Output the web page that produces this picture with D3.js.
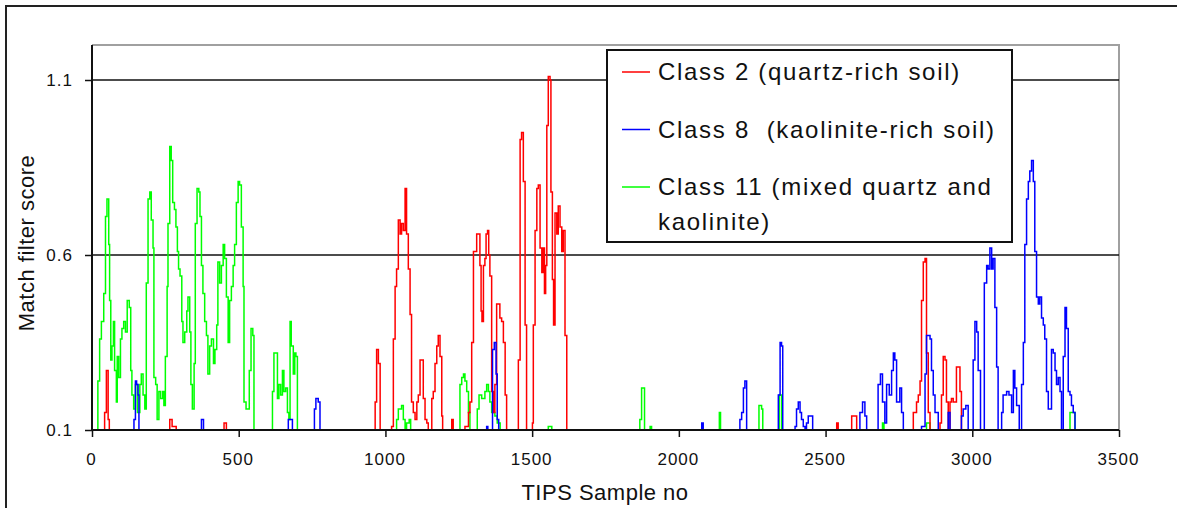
<!DOCTYPE html>
<html>
<head>
<meta charset="utf-8">
<script src="https://cdn.jsdelivr.net/npm/d3@7"></script>
<style>
    html, body {
        margin: 0;
        padding: 0;
        background: white;
        overflow: hidden;
    }
    svg {
        display: block;
        font-family: "Liberation Sans", Arial, sans-serif;
    }
    text.tick-label {
        font-size: 17px;
        letter-spacing: 1px;
        fill: #111;
    }
    .axis-title {
        font-size: 22px;
        letter-spacing: 0.5px;
        fill: #111;
    }
    .legend text {
        font-size: 24px;
        letter-spacing: 1.7px;
        fill: #111;
        white-space: pre;
    }
</style>
</head>
<body>
<svg width="1177" height="508"></svg>
<script>
    // values: [TIPS sample no, match filter score]
    var class2 = [[0,0.1],[43,0.15],[49,0.27],[55,0.13],[59,0.1],[265,0.13],[273,0.11],[287,0.1],[450,0.12],[458,0.1],
        [965,0.18],[970,0.33],[976,0.29],[982,0.1],[1021,0.11],[1027,0.36],[1033,0.51],[1038,0.56],[1044,0.70],[1050,0.66],[1055,0.69],[1061,0.67],[1067,0.79],[1072,0.66],[1078,0.56],[1084,0.43],[1089,0.18],[1095,0.15],[1101,0.13],[1107,0.18],[1112,0.20],[1118,0.30],[1124,0.30],[1129,0.19],[1135,0.13],[1141,0.12],[1146,0.1],
        [1158,0.19],[1163,0.21],[1169,0.29],[1175,0.34],[1180,0.37],[1186,0.31],[1192,0.14],[1195,0.1],[1226,0.13],[1231,0.1],
        [1271,0.11],[1283,0.15],[1288,0.18],[1294,0.35],[1300,0.61],[1305,0.61],[1311,0.66],[1317,0.66],[1322,0.57],[1326,0.44],[1329,0.41],[1334,0.57],[1339,0.59],[1343,0.66],[1348,0.67],[1352,0.60],[1356,0.54],[1362,0.21],[1368,0.15],[1373,0.23],[1379,0.46],[1385,0.46],[1390,0.42],[1396,0.41],[1402,0.35],[1408,0.20],[1413,0.1],
        [1453,0.30],[1459,0.93],[1464,0.95],[1470,0.81],[1476,0.40],[1481,0.1],
        [1501,0.12],[1504,0.40],[1510,0.67],[1516,0.79],[1521,0.80],[1527,0.62],[1533,0.55],[1538,0.62],[1542,0.49],[1546,0.57],[1550,0.97],[1555,1.11],[1561,1.10],[1564,0.78],[1569,0.53],[1573,0.40],[1578,0.72],[1584,0.66],[1589,0.74],[1595,0.68],[1601,0.61],[1606,0.67],[1612,0.37],[1618,0.1],
        [2538,0.12],[2543,0.1],[2589,0.14],[2600,0.14],[2606,0.1],
        [2799,0.15],[2810,0.18],[2816,0.20],[2822,0.24],[2827,0.47],[2833,0.58],[2839,0.59],[2844,0.32],[2850,0.15],[2856,0.1],
        [2890,0.12],[2895,0.20],[2901,0.31],[2907,0.30],[2912,0.18],[2918,0.1],[2924,0.18],[2929,0.19],[2935,0.18],[2946,0.28],[2958,0.21],[2963,0.1],[3350,0.1]];

    var class8 = [[0,0.1],[143,0.13],[148,0.24],[152,0.23],[157,0.20],[160,0.1],[373,0.13],[380,0.1],[669,0.13],[683,0.1],[758,0.16],[763,0.19],[771,0.18],[777,0.1],
        [1345,0.11],[1349,0.1],[1365,0.33],[1371,0.35],[1377,0.26],[1381,0.13],[1386,0.1],
        [2078,0.12],[2083,0.1],[2208,0.13],[2214,0.15],[2220,0.22],[2225,0.24],[2231,0.1],
        [2339,0.2],[2345,0.35],[2350,0.34],[2354,0.1],
        [2396,0.11],[2401,0.16],[2407,0.18],[2413,0.15],[2418,0.13],[2424,0.11],[2430,0.1],[2435,0.12],[2441,0.14],[2452,0.14],[2456,0.1],
        [2617,0.15],[2626,0.18],[2634,0.14],[2640,0.1],
        [2679,0.23],[2687,0.26],[2694,0.18],[2702,0.12],[2708,0.23],[2717,0.20],[2725,0.27],[2731,0.32],[2736,0.30],[2742,0.18],[2753,0.22],[2759,0.15],[2765,0.1],
        [2827,0.11],[2839,0.26],[2844,0.37],[2850,0.37],[2856,0.36],[2861,0.27],[2867,0.20],[2873,0.15],[2884,0.1],
        [2918,0.15],[2924,0.1],[2963,0.14],[2969,0.16],[2978,0.17],[2986,0.1],
        [3003,0.30],[3009,0.41],[3015,0.38],[3020,0.27],[3028,0.1],
        [3041,0.52],[3049,0.57],[3054,0.56],[3060,0.62],[3066,0.56],[3071,0.59],[3077,0.45],[3083,0.28],[3088,0.1],
        [3100,0.15],[3105,0.20],[3117,0.21],[3125,0.20],[3134,0.15],[3140,0.27],[3145,0.22],[3151,0.17],[3160,0.1],
        [3168,0.23],[3174,0.35],[3179,0.63],[3185,0.76],[3191,0.81],[3196,0.84],[3202,0.87],[3208,0.81],[3213,0.61],[3219,0.48],[3225,0.46],[3230,0.48],[3236,0.42],[3242,0.40],[3247,0.36],[3253,0.21],[3259,0.16],[3270,0.33],[3276,0.32],[3282,0.27],[3287,0.23],[3293,0.25],[3299,0.21],[3304,0.1],[3310,0.31],[3316,0.45],[3321,0.39],[3327,0.21],[3333,0.20],[3338,0.17],[3344,0.15],[3350,0.1]];

    var class11 = [[0,0.1],[20,0.24],[26,0.36],[32,0.41],[40,0.49],[46,0.71],[51,0.76],[57,0.63],[60,0.47],[64,0.30],[68,0.34],[73,0.41],[77,0.27],[83,0.18],[86,0.31],[91,0.25],[97,0.36],[102,0.39],[108,0.41],[114,0.38],[120,0.47],[127,0.45],[132,0.27],[136,0.20],[142,0.16],[148,0.23],[155,0.15],[163,0.23],[168,0.26],[174,0.20],[180,0.16],
        [185,0.52],[191,0.76],[197,0.78],[202,0.70],[208,0.62],[211,0.25],[217,0.23],[222,0.13],[228,0.21],[234,0.19],[241,0.21],[245,0.17],[250,0.31],[256,0.51],[259,0.69],[265,0.91],[270,0.87],[275,0.75],[281,0.73],[286,0.68],[291,0.61],[295,0.56],[300,0.54],[306,0.41],[310,0.35],[316,0.38],[323,0.44],[327,0.48],[333,0.38],[337,0.23],[342,0.16],[348,0.29],
        [352,0.69],[358,0.79],[364,0.78],[368,0.71],[373,0.57],[378,0.49],[384,0.41],[390,0.37],[395,0.26],[401,0.34],[407,0.36],[414,0.29],[419,0.33],[425,0.40],[429,0.58],[435,0.52],[441,0.57],[447,0.63],[452,0.59],[458,0.48],[464,0.35],[469,0.47],[475,0.51],[481,0.57],[486,0.63],[492,0.75],[498,0.81],[503,0.80],[509,0.68],[515,0.51],[518,0.18],[525,0.16],[532,0.16],[536,0.27],[542,0.39],[548,0.37],[552,0.1],
        [615,0.21],[620,0.32],[627,0.32],[632,0.19],[637,0.23],[643,0.20],[649,0.27],[654,0.21],[660,0.22],[666,0.15],[671,0.13],[675,0.41],[679,0.34],[686,0.26],[691,0.32],[695,0.31],[700,0.1],
        [1038,0.13],[1044,0.16],[1050,0.16],[1055,0.17],[1061,0.13],[1067,0.1],[1072,0.12],[1081,0.13],[1086,0.1],
        [1254,0.23],[1260,0.25],[1266,0.26],[1271,0.24],[1277,0.21],[1283,0.15],[1288,0.1],
        [1313,0.16],[1319,0.2],[1328,0.19],[1334,0.19],[1339,0.21],[1345,0.23],[1351,0.21],[1356,0.18],[1362,0.15],[1373,0.14],[1381,0.12],[1391,0.1],
        [1555,0.11],[1567,0.1],
        [1867,0.13],[1873,0.22],[1879,0.22],[1883,0.1],[1902,0.11],[1907,0.1],
        [2138,0.15],[2142,0.1],[2273,0.17],[2282,0.16],[2286,0.1],[2342,0.2],[2350,0.1],
        [2694,0.12],[2699,0.1],[2844,0.12],[2856,0.1],[3333,0.15],[3350,0.1]];

    var xTicks = [0, 500, 1000, 1500, 2000, 2500, 3000, 3500];
    var yTicks = [0.1, 0.6, 1.1];
    var gridValues = [0.6, 1.1];

    var legendLabels = [
        ["Class 2 (quartz-rich soil)"],
        ["Class 8  (kaolinite-rich soil)"],
        ["Class 11 (mixed quartz and", "kaolinite)"]
    ];

    var series = [
        {name: "class11", values: class11, color: "#00ff00"},
        {name: "class2", values: class2, color: "#ff0000"},
        {name: "class8", values: class8, color: "#0000ff"}
    ];
    var legendColors = ["#ff0000", "#0000ff", "#00ff00"];

    (function () {
        var svg = d3.select("svg");

        var plotLeft = 92, plotRight = 1119, plotTop = 45, plotBottom = 430;

        var x = d3.scaleLinear().domain([0, 3500]).range([plotLeft, plotRight]);
        var y = d3.scaleLinear().domain([0.1, 1.2]).range([plotBottom, plotTop]);

        // outer frame of the picture
        svg.append("rect")
            .attr("x", 6).attr("y", 6)
            .attr("width", 1190).attr("height", 520)
            .attr("fill", "none")
            .attr("stroke", "#222")
            .attr("stroke-width", 2);

        // plot area border (top/right are grey)
        svg.append("path")
            .attr("d", "M" + plotLeft + "," + plotTop + "H" + plotRight + "V" + plotBottom)
            .attr("fill", "none")
            .attr("stroke", "#a0a0a0")
            .attr("stroke-width", 2);

        // gridlines
        svg.append("g").selectAll("line")
            .data(gridValues)
            .enter().append("line")
            .attr("x1", plotLeft).attr("x2", plotRight)
            .attr("y1", function (d) { return y(d); })
            .attr("y2", function (d) { return y(d); })
            .attr("stroke", "#111")
            .attr("stroke-width", 1.5);

        // series
        var line = d3.line()
            .curve(d3.curveStepAfter)
            .x(function (d) { return x(d[0]); })
            .y(function (d) { return y(d[1]); });

        svg.append("g").selectAll("path")
            .data(series)
            .enter().append("path")
            .attr("d", function (d) { return line(d.values); })
            .attr("fill", "none")
            .attr("stroke", function (d) { return d.color; })
            .attr("stroke-width", 1.5);

        // axes
        var xAxis = d3.axisBottom(x).tickValues(xTicks).tickSize(7).tickFormat(d3.format("d"));
        var yAxis = d3.axisLeft(y).tickValues(yTicks).tickSize(7).tickFormat(d3.format(".1f"));

        var gx = svg.append("g")
            .attr("transform", "translate(0," + plotBottom + ")")
            .call(xAxis);
        var gy = svg.append("g")
            .attr("transform", "translate(" + plotLeft + ",0)")
            .call(yAxis);

        [gx, gy].forEach(function (g) {
            g.attr("font-size", null).attr("font-family", null);
            g.select(".domain").attr("stroke", "#111").attr("stroke-width", 2);
            g.selectAll(".tick line").attr("stroke", "#111").attr("stroke-width", 1.5);
            g.selectAll(".tick text").attr("class", "tick-label");
        });
        gx.select(".domain").attr("d", "M" + plotLeft + ",0H" + plotRight);
        gy.select(".domain").attr("d", "M0," + plotBottom + "V" + plotTop);
        gx.selectAll(".tick text").attr("y", 23).attr("dy", "0.71em").attr("dx", -1);
        gy.selectAll(".tick text").attr("x", -19).attr("dy", "0.35em");

        // axis titles
        svg.append("text")
            .attr("class", "axis-title")
            .attr("x", 605)
            .attr("y", 500)
            .attr("text-anchor", "middle")
            .text("TIPS Sample no");

        svg.append("text")
            .attr("class", "axis-title")
            .attr("transform", "translate(34,243) rotate(-90)")
            .attr("text-anchor", "middle")
            .text("Match filter score");

        // legend
        var legend = svg.append("g").attr("class", "legend");
        legend.append("rect")
            .attr("x", 607).attr("y", 50)
            .attr("width", 405).attr("height", 192)
            .attr("fill", "white")
            .attr("stroke", "#111")
            .attr("stroke-width", 2);

        var item = legend.selectAll("g.item")
            .data(legendLabels)
            .enter().append("g")
            .attr("class", "item")
            .attr("transform", function (d, i) { return "translate(0," + (72 + i * 57.5) + ")"; });

        item.append("line")
            .attr("x1", 622).attr("x2", 650)
            .attr("stroke", function (d, i) { return legendColors[i]; })
            .attr("stroke-width", 1.5);

        item.append("text")
            .attr("x", 658)
            .selectAll("tspan")
            .data(function (d) { return d; })
            .enter().append("tspan")
            .attr("x", 658)
            .attr("dy", function (d, i) { return i === 0 ? "0.35em" : 35; })
            .text(function (d) { return d; });
    })();
</script>
</body>
</html>
